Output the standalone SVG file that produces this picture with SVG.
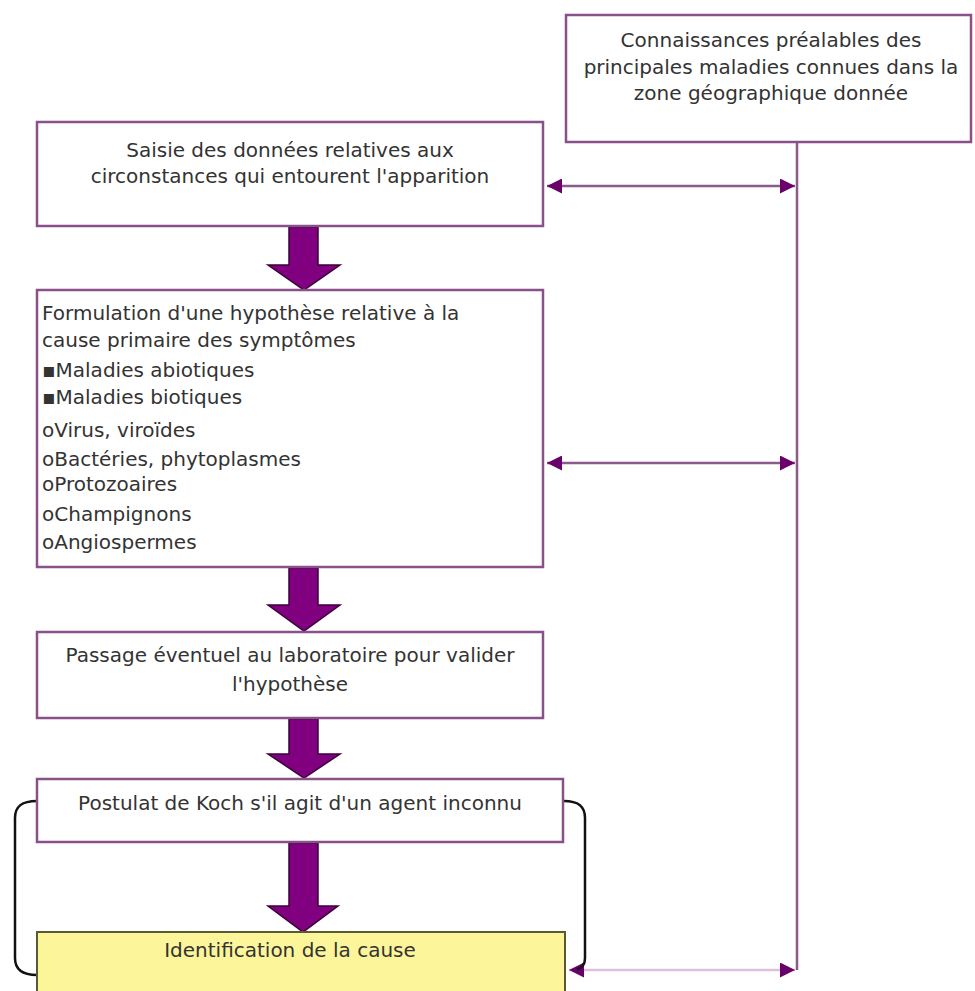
<svg xmlns="http://www.w3.org/2000/svg" width="975" height="991" viewBox="0 0 975 991">
<style>
.box{fill:#fff;stroke:#8a508a;stroke-width:2.5}
.t{font-family:"DejaVu Sans",Verdana,sans-serif;font-size:20px;fill:#333}
.c{text-anchor:middle}
.big{fill:#800080;stroke:#3a003a;stroke-width:1.5}
.link{fill:none;stroke:#8a5a8a;stroke-width:2.5}
.br{fill:none;stroke:#111;stroke-width:2.5}
</style>
<defs>
<marker id="ah" viewBox="0 0 10 10" refX="10" refY="5" markerWidth="6" markerHeight="6" orient="auto-start-reverse" markerUnits="strokeWidth">
<path d="M0,0 L10,5 L0,10 Z" fill="#6a006a"/>
</marker>
</defs>
<rect width="975" height="991" fill="#fff"/>
<g id="connectors">
<line class="link" x1="797" y1="142" x2="797" y2="970"/>
<line class="link" x1="547" y1="186" x2="795" y2="186" marker-start="url(#ah)" marker-end="url(#ah)"/>
<line class="link" x1="547" y1="463" x2="795" y2="463" marker-start="url(#ah)" marker-end="url(#ah)"/>
<line x1="569" y1="970" x2="795" y2="970" stroke="#dcc0dc" stroke-width="2.5" marker-start="url(#ah)" marker-end="url(#ah)"/>
<path class="big" d="M289,227 H318 V265 H340 L304,290 L268,265 H289 Z"/>
<path class="big" d="M289,568 H318 V605 H340 L304,631 L268,605 H289 Z"/>
<path class="big" d="M289,719 H318 V754 H340 L304,778 L268,754 H289 Z"/>
<path class="big" d="M289,843 H318 V906 H338 L303,932 L268,906 H289 Z"/>
<path class="br" d="M37,801 C22,801 15,806 15,818 V958 C15,970 24,975 37,975"/>
<path class="br" d="M564,801 C578,801 585,806 585,818 V958 C585,965 582,968 577,969"/>
</g>
<g id="n0">
<rect class="box" x="566" y="15" width="405" height="127"/>
<text class="t c" x="771" y="47">Connaissances préalables des</text>
<text class="t c" x="771" y="74">principales maladies connues dans la</text>
<text class="t c" x="771" y="100">zone géographique donnée</text>
</g>
<g id="n1">
<rect class="box" x="37" y="122" width="506" height="104"/>
<text class="t c" x="290" y="157">Saisie des données relatives aux</text>
<text class="t c" x="290" y="183">circonstances qui entourent l'apparition</text>
</g>
<g id="n2">
<rect class="box" x="37" y="290" width="506" height="277"/>
<text class="t" x="42" y="320">Formulation d'une hypothèse relative à la</text>
<text class="t" x="42" y="347">cause primaire des symptômes</text>
<text class="t" x="42" y="377">▪Maladies abiotiques</text>
<text class="t" x="42" y="404">▪Maladies biotiques</text>
<text class="t" x="42" y="437">oVirus, viroïdes</text>
<text class="t" x="42" y="466">oBactéries, phytoplasmes</text>
<text class="t" x="42" y="491">oProtozoaires</text>
<text class="t" x="42" y="521">oChampignons</text>
<text class="t" x="42" y="549">oAngiospermes</text>
</g>
<g id="n3">
<rect class="box" x="37" y="632" width="506" height="86"/>
<text class="t c" x="290" y="662">Passage éventuel au laboratoire pour valider</text>
<text class="t c" x="290" y="691">l'hypothèse</text>
</g>
<g id="n4">
<rect class="box" x="37" y="779" width="526" height="63"/>
<text class="t c" x="300" y="810">Postulat de Koch s'il agit d'un agent inconnu</text>
</g>
<g id="n5">
<rect x="37" y="932" width="528" height="64" fill="#fdf59a" stroke="#5a5a30" stroke-width="2"/>
<text class="t c" x="290" y="957">Identification de la cause</text>
</g>
</svg>
